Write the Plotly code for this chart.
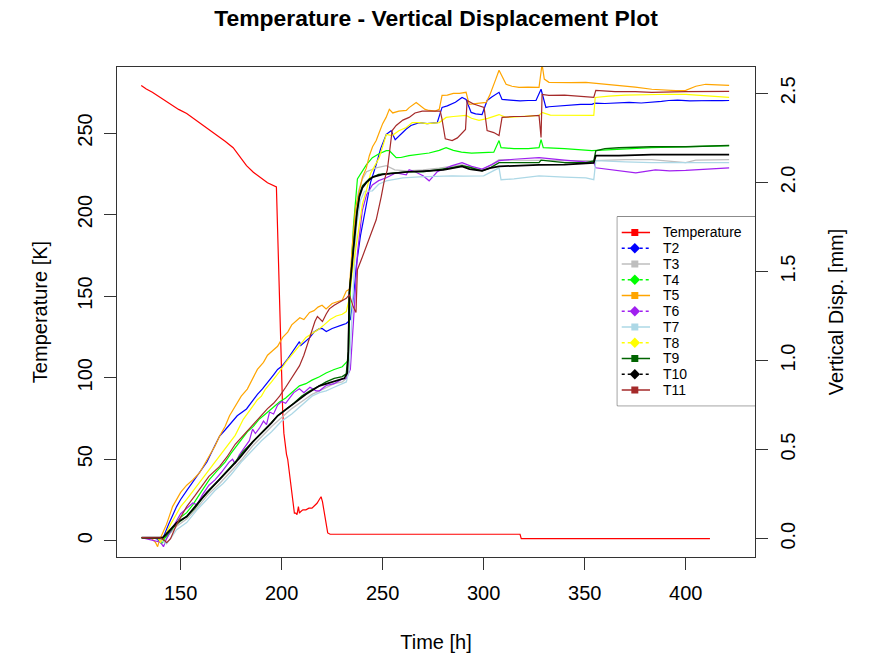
import plotly.graph_objects as go

# ---------------- data ----------------
temp_time = [130.5, 133, 136, 141, 145, 149, 153, 157, 161, 165,
             169, 172, 176, 179, 182.6, 186, 189, 193, 197.4, 197.8,
             198.1, 198.5, 198.9, 199.5, 200.0, 200.5, 201.1, 201.7, 202.4, 203,
             203.8, 204.7, 205.5, 206.3, 207, 207.6, 208.3, 208.8, 209.5, 210.5,
             212, 213.5, 215, 216, 217.5, 218.5, 219.5, 220.2, 220.6, 221.2,
             221.8, 222.3, 222.8, 224, 240, 260, 280, 300, 318, 318.6,
             340, 360, 380, 412]
temp_K = [279.2, 277, 275, 271, 268, 264.5, 262, 258.5, 255, 251.5,
          247.5, 245, 241, 236, 230, 226, 223, 219.5, 217, 200,
          176, 155, 140, 115, 100, 80, 66, 58, 53, 50,
          42, 33, 25, 17, 17, 16, 21, 17, 18, 19,
          19, 20, 20, 21, 23, 25, 27, 24, 21, 16,
          11, 7, 4.8, 4.0, 4.0, 4.0, 4.0, 4.0, 4.0, 1.3,
          1.3, 1.3, 1.3, 1.3]

t2_time = [130.7, 135, 138, 140, 141.5, 144, 148, 150, 153, 156,
           159.4, 163, 166, 169.3, 172, 175, 178, 182.6, 186, 188,
           190.5, 193, 196, 198, 200.4, 203, 206, 208.8, 209.5, 211,
           214, 216, 218.7, 220, 222.1, 225, 228, 230, 232, 234,
           235.5, 237, 239, 241.9, 244, 246.8, 249, 251.8, 254.2, 256.2,
           258, 261.7, 264, 268.1, 272, 277, 279.4, 282, 286, 289.3,
           291.3, 293.8, 296, 299.2, 301.7, 304, 307.6, 309.1, 313, 318,
           322, 325.9, 328.4, 330.8, 332.3, 337, 343, 348, 353.6, 355,
           360, 366, 372, 378, 383.2, 388, 391.6, 396, 402, 408,
           414, 418, 421.5]
t2_disp = [0.006, 0.006, 0.0, -0.02, 0.01, 0.08, 0.18, 0.22, 0.27, 0.32,
           0.372, 0.43, 0.50, 0.576, 0.61, 0.65, 0.69, 0.728, 0.78, 0.81,
           0.841, 0.88, 0.92, 0.95, 0.971, 1.01, 1.06, 1.106, 1.085, 1.10,
           1.13, 1.16, 1.179, 1.18, 1.163, 1.18, 1.19, 1.20, 1.208, 1.23,
           1.35, 1.535, 1.70, 1.88, 2.00, 2.10, 2.19, 2.27, 2.29, 2.24,
           2.26, 2.30, 2.32, 2.336, 2.33, 2.336, 2.421, 2.43, 2.45, 2.477,
           2.466, 2.393, 2.385, 2.381, 2.460, 2.48, 2.506, 2.466, 2.462, 2.458,
           2.460, 2.460, 2.523, 2.421, 2.425, 2.430, 2.435, 2.438, 2.438, 2.445,
           2.443, 2.447, 2.449, 2.446, 2.449, 2.455, 2.460, 2.462, 2.458, 2.461,
           2.460, 2.459, 2.460]

t3_time = [130.7, 140, 142, 144, 148, 153, 158, 163, 169.3, 175,
           180, 185.6, 190, 195, 200, 205, 210, 215, 218.7, 222,
           226, 230, 232, 233, 233.8, 235, 236.5, 238, 240, 242,
           246.8, 251.8, 256, 261.7, 270, 278, 289.3, 294, 299.2, 304,
           307.6, 315, 327.4, 340, 354.5, 370, 383.2, 395, 400, 405,
           421.5]
t3_disp = [0.006, 0.0, -0.02, 0.02, 0.07, 0.11, 0.17, 0.24, 0.31, 0.38,
           0.44, 0.52, 0.57, 0.63, 0.68, 0.73, 0.77, 0.81, 0.83, 0.85,
           0.87, 0.88, 0.90, 1.0, 1.35, 1.62, 1.82, 1.95, 2.02, 2.06,
           2.082, 2.094, 2.07, 2.065, 2.07, 2.08, 2.099, 2.08, 2.071, 2.10,
           2.128, 2.125, 2.122, 2.122, 2.122, 2.128, 2.128, 2.115, 2.111, 2.125,
           2.128]

t4_time = [130.7, 136, 139, 140.5, 142, 145, 148, 150, 153, 156,
           160, 164.3, 168, 172, 175, 177.6, 180, 183, 186, 189,
           192, 195, 198.9, 202, 205, 208.8, 212, 215, 218.7, 222,
           226, 230, 232, 233, 234, 235.5, 237.5, 239.9, 242, 244.9,
           248, 251.8, 253.3, 256.7, 259, 263, 268.1, 273, 278, 281.4,
           285, 289, 294, 301.2, 305, 307.6, 308.6, 315, 322, 327.4,
           328.4, 329.5, 340, 353.6, 356, 366, 383.2, 400, 410, 421.5]
t4_disp = [0.006, 0.006, 0.0, -0.03, 0.0, 0.04, 0.09, 0.12, 0.146, 0.19,
           0.26, 0.333, 0.38, 0.43, 0.48, 0.519, 0.55, 0.60, 0.63, 0.672,
           0.70, 0.73, 0.767, 0.79, 0.82, 0.858, 0.87, 0.89, 0.909, 0.93,
           0.95, 0.965, 0.99, 1.0, 1.4, 1.75, 2.02, 2.065, 2.10, 2.139,
           2.16, 2.178, 2.178, 2.139, 2.14, 2.15, 2.156, 2.165, 2.18, 2.195,
           2.18, 2.17, 2.165, 2.167, 2.17, 2.235, 2.195, 2.19, 2.19, 2.195,
           2.240, 2.195, 2.19, 2.178, 2.18, 2.185, 2.195, 2.20, 2.205, 2.207]

t5_time = [130.7, 135, 137.5, 138.6, 139.5, 141, 143, 146, 148, 150,
           153, 156, 159.4, 162, 165, 167, 169.3, 172, 174.2, 177,
           180, 183, 185.6, 188, 191, 193, 195.5, 198, 200.5, 203,
           205, 207.3, 209, 211, 213.8, 216, 218, 220, 222, 225,
           228, 230, 232, 233.5, 235, 236.5, 238.4, 240, 241.9, 243.4,
           245, 246.8, 248.3, 250, 251.7, 253.3, 255, 258, 261.7, 263.1,
           266.6, 268.5, 271, 273, 276, 278, 279.4, 282, 285, 288,
           291.3, 292.8, 295, 298, 301.2, 303, 304.2, 306, 307.6, 309,
           311.1, 314, 317.5, 322, 327.4, 328.9, 330, 332.3, 337, 343,
           350.6, 358, 366.9, 375, 383.2, 390, 395, 400, 405, 409.9,
           415, 421.5]
t5_disp = [0.006, 0.006, -0.02, -0.045, -0.01, 0.03, 0.08, 0.18, 0.22, 0.26,
           0.30, 0.33, 0.37, 0.42, 0.48, 0.52, 0.576, 0.63, 0.69, 0.74,
           0.80, 0.84, 0.90, 0.95, 0.99, 1.03, 1.055, 1.08, 1.13, 1.16,
           1.20, 1.22, 1.24, 1.23, 1.27, 1.28, 1.30, 1.31, 1.29, 1.32,
           1.33, 1.34, 1.39, 1.40, 1.65, 1.85, 1.95, 2.03, 2.08, 2.15,
           2.20, 2.235, 2.28, 2.33, 2.365, 2.41, 2.39, 2.40, 2.404, 2.42,
           2.449, 2.43, 2.41, 2.404, 2.40, 2.41, 2.489, 2.49, 2.50, 2.50,
           2.506, 2.438, 2.44, 2.445, 2.449, 2.49, 2.523, 2.58, 2.630, 2.60,
           2.551, 2.54, 2.534, 2.535, 2.534, 2.664, 2.58, 2.562, 2.56, 2.56,
           2.562, 2.555, 2.545, 2.535, 2.523, 2.52, 2.515, 2.517, 2.54, 2.551,
           2.55, 2.545]

t6_time = [130.7, 140, 141.5, 143, 146, 148, 150, 153, 156, 158,
           161, 164, 167, 170, 172, 174, 175.7, 177, 179, 182,
           184, 185.6, 187, 189, 191, 192.5, 194, 196, 198, 200,
           202, 204, 206, 208.8, 211, 214, 217, 218.7, 222, 226,
           230, 232, 234, 236, 237.5, 239.9, 242, 244.9, 248, 251.8,
           256.7, 261.7, 263.1, 266, 270, 273, 277, 284.4, 289.3, 294,
           299.2, 304, 307.6, 315, 327.4, 340, 354.5, 355.5, 365, 375.3,
           385, 392, 400, 410, 421.5]
t6_disp = [0.006, -0.02, -0.045, 0.0, 0.06, 0.10, 0.14, 0.17, 0.20, 0.19,
           0.25, 0.30, 0.33, 0.37, 0.40, 0.43, 0.446, 0.42, 0.47, 0.52,
           0.55, 0.615, 0.59, 0.62, 0.66, 0.64, 0.711, 0.70, 0.75, 0.77,
           0.76, 0.79, 0.82, 0.841, 0.82, 0.85, 0.83, 0.830, 0.86, 0.87,
           0.897, 0.90, 0.95, 1.30, 1.60, 1.84, 1.93, 1.986, 2.01, 2.026,
           2.054, 2.043, 2.071, 2.06, 2.037, 2.009, 2.06, 2.094, 2.111, 2.09,
           2.075, 2.10, 2.122, 2.13, 2.139, 2.125, 2.111, 2.082, 2.07, 2.054,
           2.07, 2.065, 2.068, 2.075, 2.082]

t7_time = [130.7, 140, 141.5, 143, 145, 148, 153, 158, 163, 167,
           171, 175, 180, 185.6, 190, 195, 200, 205, 210, 215,
           218.7, 222, 226, 230, 232, 233.5, 235.5, 237, 239, 241,
           244.9, 248, 251.8, 255, 260, 268.1, 275, 284.4, 290, 300,
           307.6, 308.6, 315, 327.4, 340, 350.6, 354.5, 355.5, 370, 383.2,
           400, 421.5]
t7_disp = [0.006, 0.0, -0.02, -0.03, 0.0, 0.05, 0.09, 0.16, 0.22, 0.27,
           0.31, 0.36, 0.43, 0.50, 0.55, 0.60, 0.66, 0.70, 0.75, 0.80,
           0.82, 0.83, 0.85, 0.87, 0.88, 0.95, 1.40, 1.75, 1.90, 1.95,
           1.953, 1.99, 2.009, 2.015, 2.026, 2.031, 2.035, 2.037, 2.035, 2.037,
           2.082, 2.015, 2.02, 2.037, 2.03, 2.026, 2.015, 2.122, 2.115, 2.111,
           2.111, 2.111]

t8_time = [130.7, 136, 139, 140, 142, 145, 148, 150, 153, 157,
           161, 165, 169.3, 173, 177, 181, 185.6, 188, 190, 192,
           195, 198.9, 202, 205, 208.8, 212, 215, 218.7, 221, 224,
           227, 230, 232, 233.5, 235, 236.5, 238.4, 240, 241.9, 244,
           248.3, 251.8, 254.7, 258, 261.7, 264.6, 268.1, 272, 278, 281.4,
           285, 291.3, 294, 297.7, 302, 307.6, 311, 316, 322, 327.4,
           328.9, 333, 340, 348, 354.5, 355.2, 362, 370, 383.2, 392,
           400, 410, 421.5]
t8_disp = [0.006, 0.006, 0.0, -0.02, 0.01, 0.08, 0.14, 0.18, 0.22, 0.28,
           0.34, 0.40, 0.463, 0.52, 0.58, 0.67, 0.745, 0.78, 0.80, 0.84,
           0.88, 0.937, 0.99, 1.03, 1.083, 1.13, 1.15, 1.179, 1.20, 1.23,
           1.25, 1.26, 1.275, 1.35, 1.50, 1.62, 1.75, 1.88, 1.953, 2.05,
           2.139, 2.269, 2.263, 2.29, 2.308, 2.336, 2.336, 2.33, 2.336, 2.365,
           2.37, 2.376, 2.36, 2.348, 2.36, 2.381, 2.365, 2.37, 2.372, 2.376,
           2.393, 2.378, 2.376, 2.374, 2.376, 2.477, 2.485, 2.49, 2.494, 2.495,
           2.494, 2.488, 2.477]

t9_time = [130.7, 140, 141, 143, 146, 150, 153, 157, 161, 165,
           169.3, 173, 177, 181, 185.6, 190, 194, 198, 202.4, 206,
           210, 214, 218.7, 222, 226, 230, 232, 233, 233.5, 234.8,
           236, 237.3, 238.5, 240, 243.4, 248, 256.7, 263, 270, 278,
           283, 289.3, 293, 299.2, 303, 307.6, 315, 327.4, 328.4, 340,
           350.6, 354.5, 355.5, 360, 366.9, 383, 400, 421.5]
t9_disp = [0.006, 0.004, 0.0, 0.02, 0.06, 0.10, 0.124, 0.17, 0.23, 0.28,
           0.333, 0.38, 0.43, 0.49, 0.542, 0.59, 0.64, 0.69, 0.728, 0.76,
           0.80, 0.83, 0.858, 0.88, 0.90, 0.91, 0.925, 1.05, 1.38, 1.56,
           1.70, 1.84, 1.93, 1.98, 2.02, 2.045, 2.054, 2.06, 2.06, 2.07,
           2.08, 2.094, 2.085, 2.065, 2.08, 2.111, 2.111, 2.111, 2.125, 2.111,
           2.111, 2.120, 2.178, 2.19, 2.195, 2.20, 2.20, 2.207]

t10_time = [130.7, 140, 141.1, 144, 148, 153, 158, 163, 169.3, 174,
            179, 185.6, 190, 195, 198, 202.4, 207, 212, 218.7, 222,
            226, 231, 232.5, 233, 233.5, 234.8, 236, 237.3, 238.5, 240,
            242, 245, 250, 256.7, 263, 273, 280, 289.3, 293, 299.2,
            303, 307.6, 315, 327.4, 340, 354.5, 355.5, 366.9, 383.2, 400,
            421.5]
t10_disp = [0.006, 0.006, 0.006, 0.04, 0.09, 0.124, 0.19, 0.26, 0.333, 0.39,
            0.45, 0.542, 0.59, 0.65, 0.69, 0.728, 0.77, 0.81, 0.858, 0.87,
            0.885, 0.90, 0.93, 1.05, 1.38, 1.55, 1.69, 1.83, 1.92, 1.97,
            2.0, 2.03, 2.045, 2.054, 2.06, 2.065, 2.07, 2.090, 2.075, 2.065,
            2.08, 2.09, 2.094, 2.099, 2.10, 2.11, 2.150, 2.150, 2.156, 2.156,
            2.156]

t11_time = [130.7, 135, 140, 142, 143.1, 145, 148, 150, 153, 157,
            160, 164, 169.3, 173, 177, 181, 185.6, 189, 193, 196,
            199, 202, 205, 208.8, 211, 213, 215.2, 216.5, 217.7, 219,
            220.2, 222, 223.6, 226, 229, 232, 233.5, 235.5, 236.8, 237.5,
            239.9, 243.4, 246.8, 249.3, 250.8, 252.3, 253.3, 254.7, 256.7, 258,
            260, 263.1, 266, 269.6, 272, 275, 278.5, 279.3, 281, 284.4,
            287, 291, 291.8, 295, 300.2, 301.7, 305, 307.6, 309.1, 315,
            320, 327.4, 328.4, 328.9, 332.3, 340, 350, 354.5, 355.5, 365,
            375, 383.2, 400, 410, 421.5]
t11_disp = [0.006, 0.006, 0.004, -0.01, -0.023, 0.0, 0.08, 0.12, 0.18, 0.24,
            0.29, 0.35, 0.406, 0.46, 0.53, 0.58, 0.632, 0.68, 0.73, 0.76,
            0.80, 0.85, 0.90, 0.97, 1.03, 1.10, 1.18, 1.22, 1.247, 1.23,
            1.219, 1.26, 1.29, 1.31, 1.33, 1.349, 1.37, 1.30, 1.27, 1.51,
            1.58, 1.69, 1.79, 1.92, 2.01, 2.07, 2.178, 2.291, 2.32, 2.33,
            2.35, 2.365, 2.39, 2.40, 2.40, 2.404, 2.40, 2.36, 2.245, 2.235,
            2.25, 2.297, 2.46, 2.44, 2.421, 2.291, 2.28, 2.263, 2.365, 2.37,
            2.37, 2.376, 2.252, 2.494, 2.489, 2.49, 2.48, 2.477, 2.517, 2.51,
            2.51, 2.506, 2.51, 2.512, 2.511]

series_names = ["T2", "T3", "T4", "T5", "T6", "T7", "T8", "T9", "T10", "T11"]
series_times = [t2_time, t3_time, t4_time, t5_time, t6_time, t7_time,
                t8_time, t9_time, t10_time, t11_time]
series_disp = [t2_disp, t3_disp, t4_disp, t5_disp, t6_disp, t7_disp,
               t8_disp, t9_disp, t10_disp, t11_disp]
series_colors = ["#0000FF", "#BEBEBE", "#00FF00", "#FFA500", "#A020F0",
                 "#ADD8E6", "#FFFF00", "#006400", "#000000", "#A52A2A"]
series_widths = [1.2, 1.3, 1.2, 1.2, 1.2, 1.3, 1.2, 1.4, 1.7, 1.2]

legend_names = ["Temperature"] + series_names
legend_colors = ["#FF0000"] + series_colors
legend_symbols = ["square", "diamond", "square", "diamond", "square", "diamond",
                  "square", "diamond", "square", "diamond", "square"]
legend_dashes = ["solid", "dash", "solid", "dash", "solid", "dash",
                 "solid", "dash", "solid", "dash", "solid"]

x_ticks = [150, 200, 250, 300, 350, 400]
temp_ticks = [0, 50, 100, 150, 200, 250]
disp_ticks = [0.0, 0.5, 1.0, 1.5, 2.0, 2.5]

# ---------------- figure ----------------
FONT = "Liberation Sans, Arial, sans-serif"
fig = go.Figure()

fig.add_trace(go.Scatter(x=temp_time, y=temp_K, mode="lines", name="Temperature",
                         line=dict(color="#FF0000", width=1.2),
                         xaxis="x", yaxis="y"))

for name, tt, dd, col, w in zip(series_names, series_times, series_disp,
                                series_colors, series_widths):
    n = min(len(tt), len(dd))
    fig.add_trace(go.Scatter(x=tt[:n], y=dd[:n], mode="lines", name=name,
                             line=dict(color=col, width=w),
                             xaxis="x", yaxis="y2"))

# legend (drawn in its own small subplot)
for i, (nm, col, sym, dsh) in enumerate(zip(legend_names, legend_colors,
                                             legend_symbols, legend_dashes)):
    fig.add_trace(go.Scatter(x=[4.4, 32.7], y=[i, i], mode="lines",
                             line=dict(color=col, width=1.5,
                                       dash="3px,3px" if dsh == "dash" else "solid"),
                             xaxis="x3", yaxis="y3", hoverinfo="skip"))
    fig.add_trace(go.Scatter(x=[17.5], y=[i], mode="markers",
                             marker=dict(color=col, symbol=sym,
                                         size=7 if sym == "square" else 8),
                             xaxis="x3", yaxis="y3", hoverinfo="skip"))
    fig.add_annotation(x=44.4, y=i, xref="x3", yref="y3", text=nm,
                       showarrow=False, xanchor="left", yanchor="middle",
                       borderpad=0,
                       font=dict(family=FONT, size=14, color="#000"))

axis_common = dict(showgrid=False, zeroline=False, ticks="outside", ticklen=12,
                   tickwidth=1, tickcolor="#333", showline=True, linecolor="#333",
                   linewidth=1, tickfont=dict(family=FONT, size=20, color="#000"))

fig.update_layout(
    width=874, height=656,
    margin=dict(l=117, r=119, t=67, b=99, autoexpand=False),
    paper_bgcolor="white", plot_bgcolor="white",
    showlegend=False,
    title=dict(text="<b>Temperature - Vertical Displacement Plot</b>",
               font=dict(family=FONT, size=22.9, color="#000"),
               x=0.5, xref="paper", xanchor="center",
               y=1 - 18 / 656, yref="container", yanchor="middle"),
    xaxis=dict(range=[118.5, 434.3], tickvals=x_ticks, mirror=True,
               ticklabelstandoff=6,
               title=dict(text="Time [h]", font=dict(family=FONT, size=20, color="#000"),
                          standoff=31),
               **axis_common),
    yaxis=dict(range=[-9.94, 290.5], tickvals=temp_ticks, tickangle=-90,
               mirror=True, ticklabelstandoff=4,
               title=dict(text="Temperature [K]", font=dict(family=FONT, size=20, color="#000"),
                          standoff=21),
               **axis_common),
    yaxis2=dict(range=[-0.103, 2.648], tickvals=disp_ticks,
                ticktext=["%.1f" % v for v in disp_ticks], tickangle=-90,
                overlaying="y", side="right", ticklabelstandoff=3,
                title=dict(text="Vertical Disp. [mm]", font=dict(family=FONT, size=20, color="#000"),
                           standoff=30),
                **axis_common),
    xaxis3=dict(domain=[0.7842, 1.0], range=[0, 137.7], visible=False,
                anchor="y3", fixedrange=True),
    yaxis3=dict(domain=[0.3088, 0.6945], range=[11.0, -1.0], visible=False,
                anchor="x3", fixedrange=True),
    shapes=[dict(type="rect", xref="paper", yref="paper", x0=0.7842, x1=1.0,
                 y0=0.3088, y1=0.6945, line=dict(color="#333", width=1),
                 fillcolor="rgba(255,255,255,0)", layer="below")],
)

fig.write_html("out.html", config={"displayModeBar": False},
               post_script="document.body.style.margin='0px';"
                           "document.body.style.padding='0px';")
